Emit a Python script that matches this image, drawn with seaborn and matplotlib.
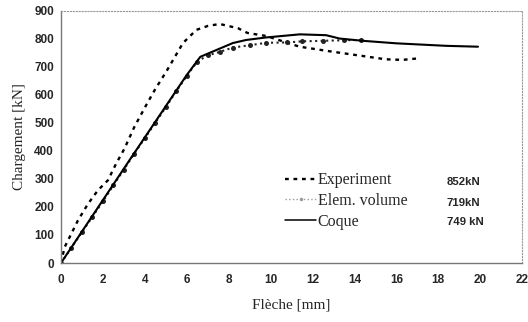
import pandas as pd
import seaborn as sns
import matplotlib.pyplot as plt

# Courbes charge-fleche
exp_x = [0, 0.17, 0.41, 0.81, 1.29, 1.76, 2.24, 2.63, 3.03, 3.5, 4.06, 4.5, 5.03, 5.82,
         6.46, 7.01, 7.57, 8.44, 8.9, 9.8, 11.38, 12.97, 14.1, 15.5, 16.3, 17.0]
exp_y = [0, 56, 92, 152, 211, 259, 295, 354, 408, 485, 562, 620, 683, 784,
         831, 845, 852, 837, 820, 809, 771, 753, 741, 726, 724, 729]

vol_x = [0, 0.5, 1.0, 1.5, 2.0, 2.5, 3.0, 3.5, 4.0, 4.5, 5.0, 5.5, 6.0, 6.5,
         7.0, 7.6, 8.2, 9.0, 9.8, 10.8, 11.5, 12.5, 13.5, 14.3]
vol_y = [0, 55, 110, 165, 220, 277, 333, 390, 445, 500, 555, 612, 667, 718,
         740, 753, 768, 776, 785, 786, 790, 792, 794, 795]

coq_x = [0, 3.3, 6.0, 6.65, 7.41, 8.2, 8.84, 9.8, 11.4, 12.65, 13.3, 14.4, 16.0, 18.4, 19.9]
coq_y = [0, 370, 670, 735, 759, 784, 795, 804, 815, 812, 800, 792, 783, 774, 771]

labels = ["Experiment", "Elem. volume", "Coque"]
peaks = ["852kN", "719kN", "749 kN"]

sns.set_style("white")
plt.rcParams["font.family"] = ["Liberation Serif", "DejaVu Serif"]

fig = plt.figure(figsize=(5.28, 3.22), dpi=100)
ax = fig.add_axes([61 / 528, 1 - 263 / 322, 461 / 528, 252.5 / 322])

sns.lineplot(x=exp_x, y=exp_y, ax=ax, sort=False, estimator=None, color="black",
             linestyle=(0, (1.6, 2.0)), linewidth=1.7, label=labels[0])
sns.lineplot(x=vol_x, y=vol_y, ax=ax, sort=False, estimator=None, color="#222222",
             linestyle=":", linewidth=1.5, marker="o", markersize=3.6,
             markeredgewidth=0, label=labels[1])
sns.lineplot(x=coq_x, y=coq_y, ax=ax, sort=False, estimator=None, color="black",
             linewidth=1.5, label=labels[2])

ax.set_xlim(0, 22)
ax.set_ylim(0, 900)
ax.set_xticks(range(0, 23, 2))
ax.set_yticks(range(0, 901, 100))

for lab in ax.get_xticklabels() + ax.get_yticklabels():
    lab.set_family(["Liberation Sans", "DejaVu Sans"])
    lab.set_fontweight("bold")
    lab.set_fontsize(8.5)

ax.tick_params(axis="x", direction="in", length=3, color="#888888", pad=8)
ax.tick_params(axis="y", direction="out", length=3, color="#888888", pad=2)

for side in ["left", "bottom"]:
    ax.spines[side].set_color("#777777")
    ax.spines[side].set_linewidth(1.0)
for side in ["top", "right"]:
    ax.spines[side].set_color("#999999")
    ax.spines[side].set_linewidth(0.8)
    ax.spines[side].set_linestyle(":")

ax.set_xlabel("Flèche [mm]", fontsize=11, labelpad=9)
ax.set_ylabel("Chargement [kN]", fontsize=11, labelpad=6)

leg = ax.legend(loc="upper left", bbox_to_anchor=(0.486, 0.36), frameon=False,
                fontsize=11.5, handlelength=1.95, handletextpad=0.1,
                labelspacing=0.3, borderaxespad=0, borderpad=0)
# the volume handle is drawn light grey in the original legend
leg.legend_handles[1].set_color("#9a9a9a")
leg.legend_handles[1].set_linewidth(1.0)
leg.legend_handles[1].set_markersize(2.5)
leg.legend_handles[2].set_linewidth(1.1)

for i, (p, yf) in enumerate(zip(peaks, [0.321, 0.238, 0.162])):
    ax.text(0.837, yf, p, transform=ax.transAxes,
            fontsize=8.2, fontweight="bold",
            family=["Liberation Sans", "DejaVu Sans"], va="center")

fig.savefig("out.png", dpi=100)
